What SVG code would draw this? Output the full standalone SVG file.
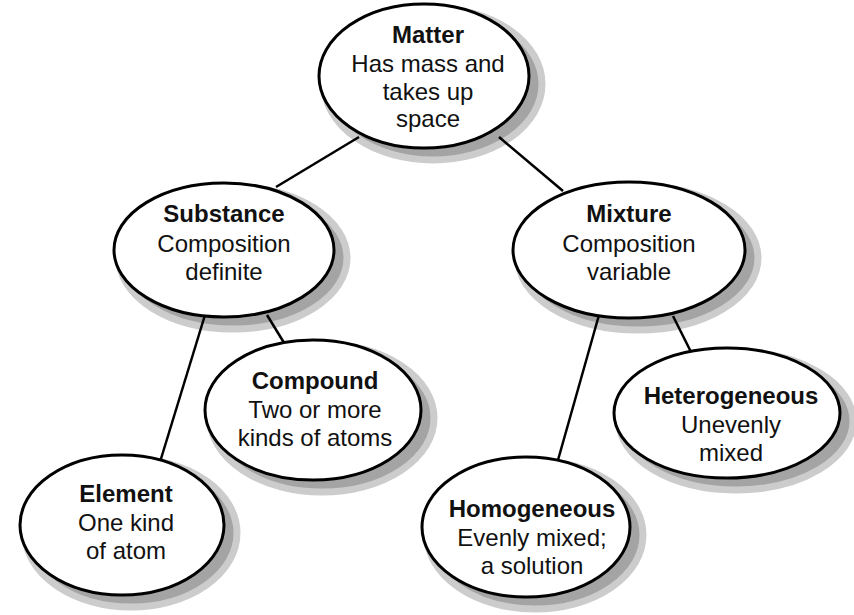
<svg xmlns="http://www.w3.org/2000/svg" width="854" height="615" viewBox="0 0 854 615">
<defs>
<style>
.node{fill:#fff;stroke:#000;stroke-width:3;}
.shadow{fill:#a4a4a4;stroke:#cccccc;stroke-width:7;}
text{font-family:"Liberation Sans","Arial",sans-serif;font-size:24px;fill:#111;text-anchor:middle;}
.b{font-weight:bold;}
.con line{stroke:#000;stroke-width:2.5;}
</style>
</defs>
<rect width="854" height="615" fill="#fff"/>
<g id="shadows">
<ellipse class="shadow" cx="433" cy="84" rx="109" ry="76"/>
<ellipse class="shadow" cx="233" cy="258" rx="114" ry="71"/>
<ellipse class="shadow" cx="638" cy="258" rx="120" ry="72"/>
<ellipse class="shadow" cx="322" cy="418" rx="112" ry="74"/>
<ellipse class="shadow" cx="131" cy="533" rx="106" ry="74"/>
<ellipse class="shadow" cx="535" cy="535" rx="108" ry="74"/>
<ellipse class="shadow" cx="736" cy="421" rx="117" ry="69"/>
</g>
<g class="con">
<line x1="359" y1="137" x2="276" y2="187"/>
<line x1="499" y1="137" x2="563" y2="191"/>
<line x1="205" y1="315" x2="160" y2="462"/>
<line x1="267" y1="315" x2="286" y2="346"/>
<line x1="599" y1="315" x2="558" y2="460"/>
<line x1="673" y1="316" x2="691" y2="352"/>
</g>
<g id="matter">
<ellipse class="node" cx="424" cy="76" rx="105" ry="72"/>
<text class="b" x="428" y="43">Matter</text>
<text x="428" y="72">Has mass and</text>
<text x="428" y="100">takes up</text>
<text x="428" y="127">space</text>
</g>
<g id="substance">
<ellipse class="node" cx="224" cy="250" rx="110" ry="67"/>
<text class="b" x="224" y="222">Substance</text>
<text x="224" y="252">Composition</text>
<text x="224" y="280">definite</text>
</g>
<g id="mixture">
<ellipse class="node" cx="629" cy="250" rx="116" ry="68"/>
<text class="b" x="629" y="222">Mixture</text>
<text x="629" y="252">Composition</text>
<text x="629" y="280">variable</text>
</g>
<g id="compound">
<ellipse class="node" cx="313" cy="410" rx="108" ry="70"/>
<text class="b" x="315" y="389">Compound</text>
<text x="315" y="418">Two or more</text>
<text x="315" y="446">kinds of atoms</text>
</g>
<g id="element">
<ellipse class="node" cx="122" cy="525" rx="102" ry="70"/>
<text class="b" x="126" y="502">Element</text>
<text x="126" y="531">One kind</text>
<text x="126" y="559">of atom</text>
</g>
<g id="homogeneous">
<ellipse class="node" cx="526" cy="527" rx="104" ry="70"/>
<text class="b" x="532" y="517">Homogeneous</text>
<text x="532" y="546">Evenly mixed;</text>
<text x="532" y="574">a solution</text>
</g>
<g id="heterogeneous">
<ellipse class="node" cx="727" cy="413" rx="113" ry="65"/>
<text class="b" x="731" y="404">Heterogeneous</text>
<text x="731" y="433">Unevenly</text>
<text x="731" y="461">mixed</text>
</g>
</svg>
